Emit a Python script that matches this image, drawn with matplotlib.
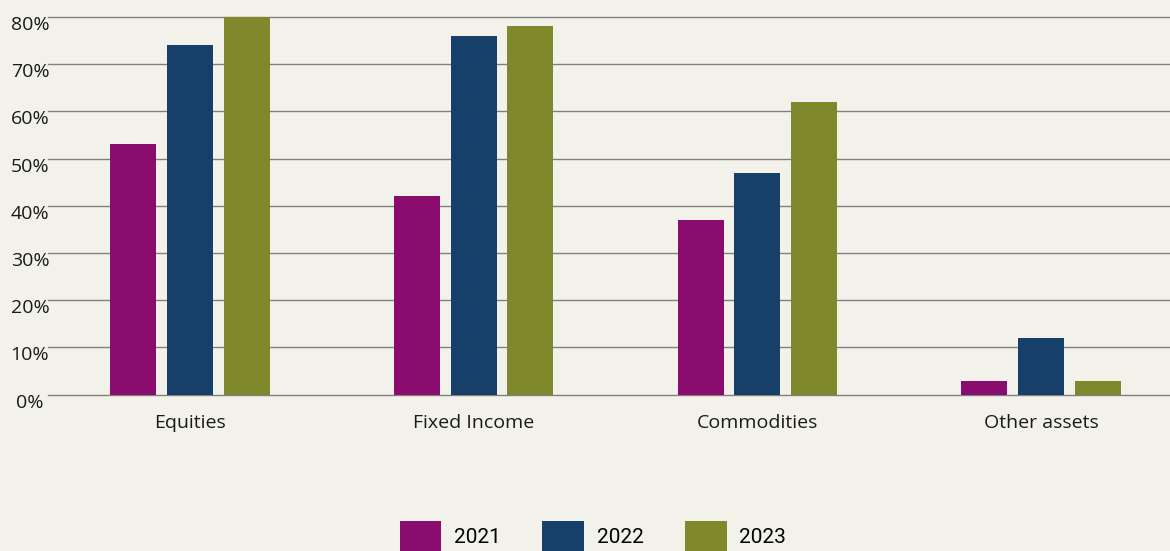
import matplotlib
matplotlib.use("Agg")
import matplotlib.pyplot as plt
import matplotlib.transforms as mtransforms
import numpy as np

# share of respondents per asset class and year
categories = ["Equities", "Fixed Income", "Commodities", "Other assets"]
years = ["2021", "2022", "2023"]
values_2021 = [53, 42, 37, 3]
values_2022 = [74, 76, 47, 12]
values_2023 = [80, 78, 62, 3]
yticks = [0, 10, 20, 30, 40, 50, 60, 70, 80]
ytick_labels = ["0%", "10%", "20%", "30%", "40%", "50%", "60%", "70%", "80%"]

colors = ["#8A0C6E", "#163F6A", "#7F892B"]
bg = "#F3F2EA"

fig = plt.figure(figsize=(11.7, 5.51), dpi=100, facecolor=bg)
ax = fig.add_axes([48 / 1170, 156.3 / 551, 1 - 48 / 1170, (394.7 - 17) / 551])
ax.set_facecolor(bg)

x = np.arange(len(categories))
width = 0.162
offset = 0.2
series = [values_2021, values_2022, values_2023]
for i, (vals, yr) in enumerate(zip(series, years)):
    ax.bar(x + (i - 1) * offset, vals, width, color=colors[i], label=yr, zorder=3)

ax.set_ylim(0, 80)
ax.set_xlim(-0.5, 3.454)
ax.set_yticks(yticks)
ax.set_yticklabels(ytick_labels)
ax.set_xticks(x)
ax.set_xticklabels(categories)
ax.yaxis.grid(True, color="#808080", linewidth=1.0, zorder=0)
ax.set_axisbelow(True)
for s in ax.spines.values():
    s.set_visible(False)
# keep the 0% and 80% lines from being clipped at the axes edge
for gl in ax.get_ygridlines():
    gl.set_clip_on(False)

ax.tick_params(axis="y", length=0, pad=13, labelsize=14, labelcolor="#1a1a1a")
ax.tick_params(axis="x", length=0, pad=14, labelsize=14, labelcolor="#1a1a1a")
shift = mtransforms.ScaledTranslation(0, -6 / 100, fig.dpi_scale_trans)
for lab in ax.get_yticklabels():
    lab.set_horizontalalignment("center")
    lab.set_fontfamily("Open Sans")
    lab.set_transform(lab.get_transform() + shift)
for lab in ax.get_xticklabels():
    lab.set_fontfamily("Open Sans")

leg = fig.legend(loc="center", bbox_to_anchor=(593 / 1170, 1 - 536 / 551),
                 ncol=3, frameon=False, handlelength=2.0,
                 handleheight=1.8, handletextpad=0.6, columnspacing=2.0,
                 borderpad=0, prop={"family": "Roboto", "size": 15})

fig.savefig("out.png", dpi=100, facecolor=bg)
